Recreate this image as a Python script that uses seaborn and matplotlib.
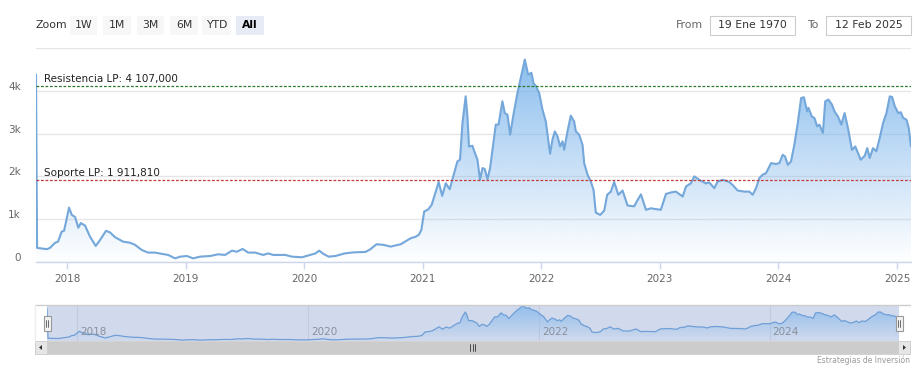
import numpy as np
import pandas as pd
import matplotlib
matplotlib.use("Agg")
import matplotlib.pyplot as plt
import matplotlib.dates as mdates
from matplotlib.patches import Rectangle, Polygon
from matplotlib.transforms import ScaledTranslation
import seaborn as sns

# fechas en años decimales
years = [
    2017.738, 2017.747, 2017.829, 2017.856, 2017.899, 2017.924, 2017.955, 2017.975,
    2018.017, 2018.040, 2018.068, 2018.095, 2018.116, 2018.152, 2018.194, 2018.242,
    2018.279, 2018.329, 2018.363, 2018.405, 2018.431, 2018.473, 2018.532, 2018.574,
    2018.631, 2018.684, 2018.743, 2018.800, 2018.853, 2018.912, 2018.954,
    2019.011, 2019.064, 2019.123, 2019.208, 2019.275, 2019.334, 2019.391, 2019.433,
    2019.481, 2019.529, 2019.588, 2019.655, 2019.698, 2019.740, 2019.841, 2019.898, 2019.982,
    2020.052, 2020.095, 2020.128, 2020.162, 2020.207, 2020.264, 2020.340, 2020.416,
    2020.517, 2020.559, 2020.610, 2020.669, 2020.728, 2020.813, 2020.897, 2020.939,
    2020.967, 2020.987,
    2021.011, 2021.045, 2021.074, 2021.104, 2021.133, 2021.163, 2021.193, 2021.226,
    2021.263, 2021.291, 2021.313, 2021.334, 2021.361, 2021.376, 2021.389, 2021.418,
    2021.427, 2021.460, 2021.482, 2021.503, 2021.522, 2021.545, 2021.567, 2021.615,
    2021.638, 2021.671, 2021.691, 2021.714, 2021.736, 2021.769, 2021.798, 2021.832,
    2021.860, 2021.888, 2021.916, 2021.933, 2021.953, 2021.981,
    2022.009, 2022.037, 2022.073, 2022.094, 2022.113, 2022.136, 2022.158, 2022.178,
    2022.192, 2022.220, 2022.248, 2022.276, 2022.291, 2022.318, 2022.347, 2022.361,
    2022.389, 2022.417, 2022.440, 2022.459, 2022.496, 2022.530, 2022.555, 2022.586,
    2022.614, 2022.649, 2022.685, 2022.727, 2022.783, 2022.812, 2022.840, 2022.882,
    2022.924, 2022.966,
    2023.008, 2023.051, 2023.093, 2023.135, 2023.192, 2023.220, 2023.262, 2023.290,
    2023.332, 2023.389, 2023.416, 2023.459, 2023.487, 2023.530, 2023.585, 2023.614,
    2023.656, 2023.712, 2023.754, 2023.783, 2023.811, 2023.839, 2023.867, 2023.895,
    2023.938, 2023.980,
    2024.008, 2024.036, 2024.056, 2024.079, 2024.106, 2024.134, 2024.163, 2024.191,
    2024.214, 2024.242, 2024.253, 2024.281, 2024.303, 2024.326, 2024.345, 2024.374,
    2024.394, 2024.421, 2024.450, 2024.472, 2024.501, 2024.529, 2024.557, 2024.585,
    2024.619, 2024.647, 2024.692, 2024.726, 2024.748, 2024.768, 2024.796, 2024.824,
    2024.852, 2024.881, 2024.909, 2024.937, 2024.957, 2024.979,
    2025.008, 2025.030, 2025.050, 2025.078, 2025.097, 2025.116,
]

prices = [
    4380, 330, 300, 330, 450, 475, 710, 730,
    1270, 1100, 1050, 800, 910, 850, 590, 375,
    515, 730, 690, 580, 540, 475, 450, 400,
    280, 220, 220, 190, 165, 85, 125,
    140, 85, 125, 140, 180, 165, 265, 240,
    305, 220, 220, 165, 200, 165, 165, 125, 110,
    165, 200, 265, 190, 125, 140, 200, 225,
    235, 300, 415, 400, 360, 415, 555, 590,
    640, 750,
    1180, 1230, 1335, 1610, 1870, 1545, 1840, 1700,
    2075, 2350, 2390, 3250, 3870, 3400, 2700, 2715,
    2640, 2390, 1920, 2195, 2170, 1935, 2195, 3210,
    3210, 3755, 3480, 3440, 2975, 3520, 3950, 4380,
    4730, 4380, 4420, 4180, 4110, 3950,
    3560, 3285, 2530, 2870, 3050, 2935, 2700, 2820,
    2620, 3050, 3420, 3285, 3050, 2975, 2740, 2310,
    2040, 1880, 1685, 1155, 1100, 1200, 1570, 1645,
    1870, 1570, 1670, 1320, 1300, 1450, 1580, 1220,
    1255, 1235,
    1220, 1590, 1625, 1645, 1530, 1765, 1840, 2000,
    1920, 1835, 1860, 1725, 1880, 1920, 1870, 1800,
    1670, 1645, 1645, 1570, 1725, 1960, 2040, 2075,
    2310, 2290,
    2310, 2505, 2465, 2270, 2350, 2740, 3250, 3830,
    3850, 3520, 3600, 3400, 3365, 3170, 3210, 3015,
    3755, 3795, 3680, 3520, 3400, 3210, 3480, 3130,
    2620, 2700, 2390, 2480, 2660, 2430, 2660, 2585,
    2895, 3250, 3480, 3870, 3855, 3640,
    3480, 3500, 3365, 3325, 3130, 2700,
]

resistance = 4107.0
support = 1911.81
resistance_label = "Resistencia LP: 4 107,000"
support_label = "Soporte LP: 1 911,810"
y_ticks = [0, 1000, 2000, 3000, 4000, 5000]
y_labels = ["0", "1k", "2k", "3k", "4k", ""]
year_ticks = [2018, 2019, 2020, 2021, 2022, 2023, 2024, 2025]
nav_years = [2018, 2020, 2022, 2024]
zoom_buttons = ["1W", "1M", "3M", "6M", "YTD", "All"]
from_text = "19 Ene 1970"
to_text = "12 Feb 2025"
credits = "Estrategias de Inversión"

assert len(years) == len(prices)


def to_date(t):
    y = int(t)
    start = pd.Timestamp(year=y, month=1, day=1)
    end = pd.Timestamp(year=y + 1, month=1, day=1)
    return start + (end - start) * (t - y)


df = pd.DataFrame({"fecha": [to_date(t) for t in years], "precio": prices})

W, H = 924, 375
LINE = "#74a7da"
FILL = np.array([124, 181, 236]) / 255.0


def fx(px):
    return px / W


def fy(py):
    return 1 - py / H


def gradient_fill(ax, dates, vals, base, top, alpha_top, zorder):
    xn = mdates.date2num(dates)
    verts = [(xn[0], base)] + list(zip(xn, vals)) + [(xn[-1], base)]
    poly = Polygon(verts, closed=True, facecolor="none", edgecolor="none")
    ax.add_patch(poly)
    grad = np.zeros((256, 1, 4))
    grad[:, 0, :3] = FILL
    grad[:, 0, 3] = np.linspace(alpha_top, 0.0, 256)
    im = ax.imshow(grad, aspect="auto", origin="upper",
                   extent=[xn[0], xn[-1], base, top], zorder=zorder)
    im.set_clip_path(poly)


sns.set_theme(style="white")
plt.rcParams["font.family"] = ["DejaVu Sans"]

fig = plt.figure(figsize=(W / 100, H / 100), dpi=100)
fig.patch.set_facecolor("white")

# ---- grafico principal ----
ax = fig.add_axes([fx(36), fy(262), fx(875), 214 / H])
ax.set_facecolor("white")
sns.lineplot(data=df, x="fecha", y="precio", ax=ax, color=LINE, linewidth=1.5, zorder=4)
gradient_fill(ax, df["fecha"], df["precio"], 0, max(prices), 0.88, 2)

ax.set_xlim(df["fecha"].iloc[0], df["fecha"].iloc[-1])
ax.set_ylim(0, 5000)
ax.set_xlabel("")
ax.set_ylabel("")

ax.set_yticks(y_ticks)
ax.set_yticklabels(y_labels)
ax.yaxis.grid(True, color="#e6e6e6", linewidth=1)
ax.xaxis.grid(False)
ax.tick_params(axis="y", length=0, pad=11, labelsize=7.5, labelcolor="#666666")
for lbl in ax.get_yticklabels():
    lbl.set_transform(lbl.get_transform() + ScaledTranslation(0, 0.05, fig.dpi_scale_trans))

ax.set_xticks([pd.Timestamp(year=y, month=1, day=1) for y in year_ticks])
ax.set_xticklabels([str(y) for y in year_ticks])
ax.tick_params(axis="x", length=5, width=1, color="#ccd6eb", pad=4,
               labelsize=7.5, labelcolor="#666666", bottom=True)
for s in ["top", "left", "right"]:
    ax.spines[s].set_visible(False)
ax.spines["bottom"].set_color("#ccd6eb")
ax.spines["bottom"].set_linewidth(1)

ax.axhline(resistance, color="#2a7a2a", linestyle=(0, (2.2, 1.4)), linewidth=0.9, zorder=5)
ax.axhline(support, color="#c43a3a", linestyle=(0, (2.2, 1.4)), linewidth=0.9, zorder=5)
ax.annotate(resistance_label, xy=(0, resistance), xycoords=("axes fraction", "data"),
            xytext=(6, 1.5), textcoords="offset points", fontsize=7.5, color="#222222",
            va="bottom", ha="left", zorder=6)
ax.annotate(support_label, xy=(0, support), xycoords=("axes fraction", "data"),
            xytext=(6, 1.5), textcoords="offset points", fontsize=7.5, color="#222222",
            va="bottom", ha="left", zorder=6)

# ---- navegador ----
nav = fig.add_axes([fx(47), fy(341), fx(852), 36 / H])
nav.set_facecolor("#d1daed")
nav.plot(df["fecha"], df["precio"], color="#6f9fd6", linewidth=0.9, zorder=4)
gradient_fill(nav, df["fecha"], df["precio"], 0, max(prices), 0.75, 2)
nav.set_xlim(df["fecha"].iloc[0], df["fecha"].iloc[-1])
nav.set_ylim(min(prices) - 120, max(prices) + 80)
nav.set_xticks([])
nav.set_yticks([])
for s in nav.spines.values():
    s.set_visible(False)
for y in nav_years:
    d = pd.Timestamp(year=y, month=1, day=1)
    nav.axvline(d, color="#c4cbe0", linewidth=0.8, zorder=1)
    nav.annotate(str(y), xy=(d, 0), xycoords=("data", "axes fraction"),
                 xytext=(2, 3), textcoords="offset points", fontsize=7.5,
                 color="#8a8f9c", ha="left", va="bottom", zorder=6)

# contorno del navegador
fig.add_artist(plt.Line2D([fx(35), fx(910)], [fy(305), fy(305)], color="#cccccc",
                          linewidth=1, transform=fig.transFigure))
fig.add_artist(plt.Line2D([fx(35), fx(35)], [fy(305), fy(341)], color="#eeeeee",
                          linewidth=1, transform=fig.transFigure))

# asas
for hx in [47, 899]:
    fig.add_artist(Rectangle((fx(hx - 3.5), fy(331)), fx(7), 15 / H, transform=fig.transFigure,
                             facecolor="#f2f2f2", edgecolor="#999999", linewidth=0.8, zorder=10))
    for off in [-1, 1]:
        fig.add_artist(plt.Line2D([fx(hx + off), fx(hx + off)], [fy(320), fy(327)],
                                  color="#333333", linewidth=0.5, transform=fig.transFigure,
                                  zorder=11))

# barra de desplazamiento
fig.add_artist(Rectangle((fx(35), fy(354)), fx(875), 13 / H, transform=fig.transFigure,
                         facecolor="#cccccc", edgecolor="#cccccc", linewidth=0.5))
for bx in [35, 898]:
    fig.add_artist(Rectangle((fx(bx), fy(354)), fx(12), 13 / H, transform=fig.transFigure,
                             facecolor="#e6e6e6", edgecolor="#cccccc", linewidth=0.5))
fig.add_artist(Polygon([(fx(39), fy(347.5)), (fx(42), fy(345)), (fx(42), fy(350))],
                       closed=True, transform=fig.transFigure, facecolor="#333333",
                       edgecolor="none"))
fig.add_artist(Polygon([(fx(906), fy(347.5)), (fx(903), fy(345)), (fx(903), fy(350))],
                       closed=True, transform=fig.transFigure, facecolor="#333333",
                       edgecolor="none"))
for gx in [470, 472.5, 475]:
    fig.add_artist(plt.Line2D([fx(gx), fx(gx)], [fy(344), fy(351)], color="#333333",
                              linewidth=0.6, transform=fig.transFigure))

fig.text(fx(910), fy(360), credits, ha="right", va="center", fontsize=5.5, color="#999999")

# ---- selector de rango ----
fig.text(fx(35), fy(25), "Zoom", ha="left", va="center", fontsize=7.8, color="#333333")
btn_x = [70, 103, 137, 170, 202, 236]
btn_w = [27, 28, 27, 28, 29, 28]
for lab, bx, bw in zip(zoom_buttons, btn_x, btn_w):
    sel = lab == "All"
    fig.add_artist(Rectangle((fx(bx), fy(35)), fx(bw), 19 / H, transform=fig.transFigure,
                             facecolor="#e6ebf5" if sel else "#f7f7f7", edgecolor="none"))
    fig.text(fx(bx + bw / 2), fy(25.5), lab, ha="center", va="center", fontsize=7.8,
             color="#000000" if sel else "#333333", fontweight="bold" if sel else "normal")

fig.text(fx(703), fy(25), "From", ha="right", va="center", fontsize=7.8, color="#666666")
fig.text(fx(818), fy(25), "To", ha="right", va="center", fontsize=7.8, color="#666666")
for bx, txt in [(710, from_text), (826, to_text)]:
    fig.add_artist(Rectangle((fx(bx), fy(35)), fx(85), 19 / H, transform=fig.transFigure,
                             facecolor="white", edgecolor="#cccccc", linewidth=0.8))
    fig.text(fx(bx + 42.5), fy(25.5), txt, ha="center", va="center", fontsize=7.8,
             color="#333333")

fig.savefig("out.png", dpi=100, facecolor="white")
